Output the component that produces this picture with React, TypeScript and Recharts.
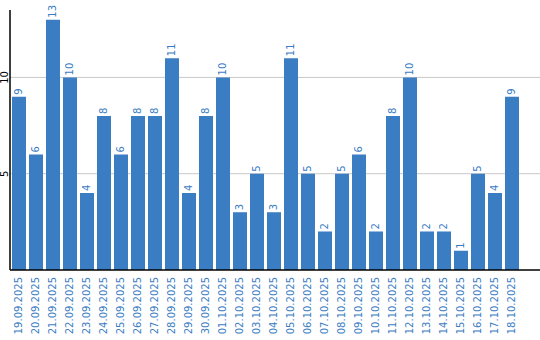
import { BarChart, Bar, XAxis, YAxis, CartesianGrid, LabelList } from 'recharts'

const dates = [
  '19.09.2025', '20.09.2025', '21.09.2025', '22.09.2025', '23.09.2025',
  '24.09.2025', '25.09.2025', '26.09.2025', '27.09.2025', '28.09.2025',
  '29.09.2025', '30.09.2025', '01.10.2025', '02.10.2025', '03.10.2025',
  '04.10.2025', '05.10.2025', '06.10.2025', '07.10.2025', '08.10.2025',
  '09.10.2025', '10.10.2025', '11.10.2025', '12.10.2025', '13.10.2025',
  '14.10.2025', '15.10.2025', '16.10.2025', '17.10.2025', '18.10.2025',
]

const counts = [9, 6, 13, 10, 4, 8, 6, 8, 8, 11, 4, 8, 10, 3, 5, 3, 11, 5, 2, 5, 6, 2, 8, 10, 2, 2, 1, 5, 4, 9]

const yTicks = [5, 10]

const BLUE = '#3b7dc3'
const FONT = '"DejaVu Sans", sans-serif'

const chartData = dates.map((date, i) => ({ date, count: counts[i] }))

function DateTick(props: any) {
  const { x, payload } = props
  const ty = 277
  return (
    <text
      x={x}
      y={ty}
      transform={`rotate(-90, ${x}, ${ty})`}
      textAnchor="end"
      dominantBaseline="central"
      fill={BLUE}
      fontSize={10}
      fontFamily={FONT}
    >
      {payload.value}
    </text>
  )
}

function CountTick(props: any) {
  const { y, payload } = props
  const tx = 5
  return (
    <text
      x={tx}
      y={y}
      transform={`rotate(-90, ${tx}, ${y})`}
      textAnchor="middle"
      dominantBaseline="central"
      fill="#000"
      fontSize={10}
      fontFamily={FONT}
    >
      {payload.value}
    </text>
  )
}

function ValueLabel(props: any) {
  const { x, y, width, value } = props
  const cx = x + width / 2
  const ty = y - 2
  return (
    <text
      x={cx}
      y={ty}
      transform={`rotate(-90, ${cx}, ${ty})`}
      textAnchor="start"
      dominantBaseline="central"
      fill={BLUE}
      fontSize={10}
      fontFamily={FONT}
    >
      {value}
    </text>
  )
}

export default function App() {
  return (
    <div>
      <style>{'body { margin: 0; }'}</style>
      <BarChart
        width={540}
        height={340}
        data={chartData}
        margin={{ top: 10, right: 0, left: 0, bottom: 0 }}
        barSize={14}
      >
        <CartesianGrid
          horizontal
          vertical={false}
          horizontalValues={yTicks}
          stroke="#c8c8c8"
          strokeWidth={1}
        />
        <XAxis
          dataKey="date"
          height={70}
          interval={0}
          tickLine={false}
          axisLine={{ stroke: '#000', strokeWidth: 1.5 }}
          tick={<DateTick />}
          padding={{ left: 0, right: 20 }}
        />
        <YAxis
          width={10}
          domain={[0, 13.5]}
          ticks={yTicks}
          tickLine={false}
          axisLine={{ stroke: '#000', strokeWidth: 1.5 }}
          tick={<CountTick />}
        />
        <Bar dataKey="count" fill={BLUE} isAnimationActive={false}>
          <LabelList dataKey="count" content={<ValueLabel />} />
        </Bar>
      </BarChart>
    </div>
  )
}
